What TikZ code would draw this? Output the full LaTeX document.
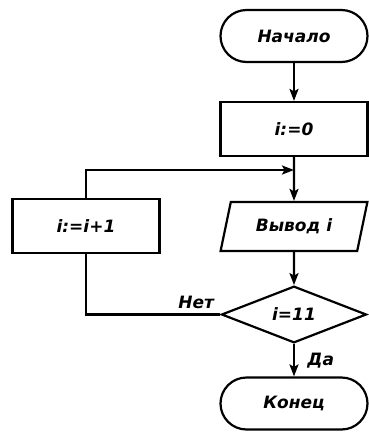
\documentclass[tikz,border=0pt]{standalone}
\usepackage{fontspec}
\setmainfont{DejaVu Sans}
\usetikzlibrary{shapes.geometric,arrows.meta}
\begin{document}
\begin{tikzpicture}[x=1pt,y=-1pt,
  every node/.style={font=\bfseries\itshape\fontsize{17}{19}\selectfont},
  blk/.style={draw,line width=2.2pt,inner sep=0pt},
  term/.style={blk,rectangle,rounded corners=26pt,minimum width=147pt,minimum height=52pt},
  proc/.style={blk,rectangle,minimum width=147pt,minimum height=54pt},
  io/.style={blk,trapezium,trapezium left angle=68,trapezium right angle=112,
    trapezium stretches=true,minimum width=148pt,minimum height=49pt},
  cond/.style={blk,diamond,minimum width=145pt,minimum height=55pt},
  flow/.style={line width=2.2pt,line join=miter,-{Stealth[length=12pt,width=9pt,inset=2.5pt]}},
  wire/.style={line width=2.2pt,line join=miter}]
\useasboundingbox (0,0) rectangle (369,432);
\node[term] (start) at (294,36) {Начало};
\node[proc] (init) at (294,129) {i:=0};
\node[io] (out) at (294,226.5) {Вывод i};
\node[proc] (inc) at (86,226) {i:=i+1};
\node[cond] (test) at (294,314.5) {i=11};
\node[term] (stop) at (294,403.5) {Конец};
\coordinate (join) at (init.south |- 0,170);
\coordinate (loopl) at (inc.north |- 0,170);
\coordinate (nob) at (inc.south |- test.west);
\draw[flow] (start) -- (init);
\draw[flow] (init) -- (out);
\draw[flow] (out) -- (test);
\draw[flow] (test) -- node[pos=0.5,right,xshift=9pt] {Да} (stop);
\draw[wire] (test.west) -- node[pos=0,above left,xshift=-2pt,yshift=1pt] {Нет} (nob) -- (inc.south);
\draw[flow] (inc.north) -- (loopl) -- (join);
\end{tikzpicture}
\end{document}
